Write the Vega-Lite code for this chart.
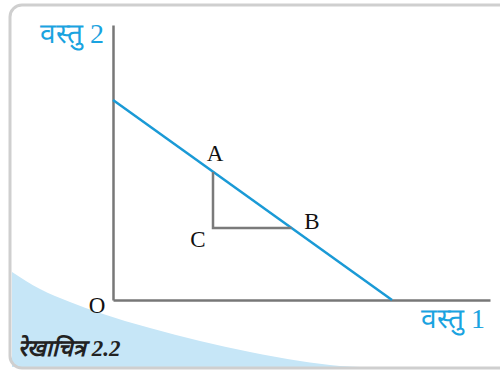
{
  "$schema": "https://vega.github.io/schema/vega-lite/v6.json",
  "autosize": {"type": "none"},
  "width": 377,
  "height": 275,
  "padding": {"left": 113, "top": 25, "right": 10, "bottom": 74},
  "background": "white",
  "config": {"view": {"stroke": null}},
  "layer": [
    {
      "data": {"values": [
        {"x": -101, "y": 28}, {"x": -73, "y": 11}, {"x": -43, "y": -2}, {"x": -13, "y": -13},
        {"x": 37, "y": -28}, {"x": 87, "y": -41}, {"x": 137, "y": -52}, {"x": 187, "y": -61},
        {"x": 227, "y": -66}, {"x": 247, "y": -67}
      ]},
      "mark": {"type": "area", "interpolate": "monotone", "color": "#c6e6f7", "clip": false},
      "encoding": {
        "x": {"field": "x", "type": "quantitative", "scale": {"domain": [0, 377], "nice": false, "zero": false},
              "axis": {"domainColor": "#777777", "domainWidth": 2.5, "ticks": false, "labels": false, "grid": false, "title": null}},
        "y": {"field": "y", "type": "quantitative", "scale": {"domain": [0, 275], "nice": false, "zero": false},
              "axis": {"domainColor": "#777777", "domainWidth": 2.5, "ticks": false, "labels": false, "grid": false, "title": null}},
        "y2": {"datum": -67}
      }
    },
    {
      "data": {"values": [{"x0": -103, "x1": 420, "y0": -68, "y1": 295}]},
      "mark": {"type": "rect", "fill": null, "stroke": "#cfcfcf", "strokeWidth": 3, "cornerRadius": 12, "clip": false},
      "encoding": {
        "x": {"field": "x0", "type": "quantitative"},
        "x2": {"field": "x1"},
        "y": {"field": "y0", "type": "quantitative"},
        "y2": {"field": "y1"}
      }
    },
    {
      "data": {"values": [{"x": 0, "y": 200}, {"x": 279, "y": 0}]},
      "mark": {"type": "line", "color": "#1a9ad6", "strokeWidth": 2.5},
      "encoding": {
        "x": {"field": "x", "type": "quantitative"},
        "y": {"field": "y", "type": "quantitative"}
      }
    },
    {
      "data": {"values": [{"x": 100, "y": 128, "o": 1}, {"x": 100, "y": 72, "o": 2}, {"x": 178.5, "y": 72, "o": 3}]},
      "mark": {"type": "line", "color": "#7a7a7a", "strokeWidth": 2.5},
      "encoding": {
        "x": {"field": "x", "type": "quantitative"},
        "y": {"field": "y", "type": "quantitative"},
        "order": {"field": "o"}
      }
    },
    {
      "data": {"values": [
        {"label": "A", "x": 102, "y": 146},
        {"label": "C", "x": 85, "y": 60},
        {"label": "B", "x": 199, "y": 78},
        {"label": "O", "x": -16, "y": -6}
      ]},
      "mark": {"type": "text", "font": "Liberation Serif", "fontSize": 23, "color": "#111111", "baseline": "middle", "align": "center"},
      "encoding": {
        "x": {"field": "x", "type": "quantitative"},
        "y": {"field": "y", "type": "quantitative"},
        "text": {"field": "label"}
      }
    },
    {
      "data": {"values": [
        {"label": "वस्तु 2", "x": -41, "y": 265},
        {"label": "वस्तु 1", "x": 340, "y": -20}
      ]},
      "mark": {"type": "text", "fontSize": 28, "font": "Liberation Serif", "color": "#1aa3e0", "baseline": "middle", "align": "center"},
      "encoding": {
        "x": {"field": "x", "type": "quantitative"},
        "y": {"field": "y", "type": "quantitative"},
        "text": {"field": "label"}
      }
    },
    {
      "data": {"values": [{"label": "रेखाचित्र 2.2", "x": -95, "y": -49}]},
      "mark": {"type": "text", "fontSize": 23, "font": "Liberation Serif", "fontWeight": "bold", "fontStyle": "italic", "color": "#222222", "baseline": "middle", "align": "left"},
      "encoding": {
        "x": {"field": "x", "type": "quantitative"},
        "y": {"field": "y", "type": "quantitative"},
        "text": {"field": "label"}
      }
    }
  ]
}
